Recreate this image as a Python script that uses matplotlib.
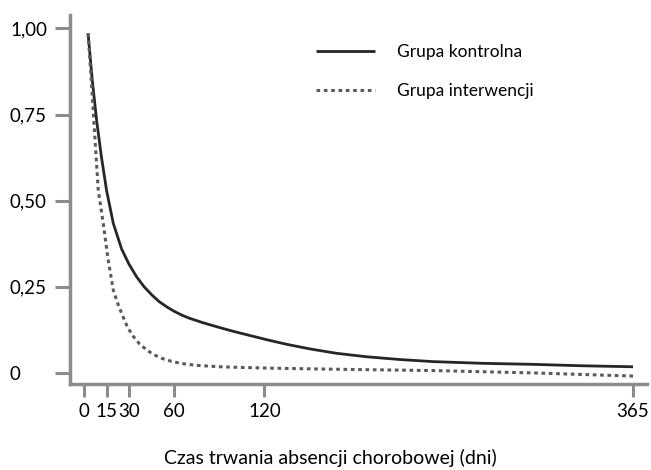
import matplotlib
matplotlib.use("Agg")
import matplotlib.pyplot as plt

plt.rcParams["font.family"] = ["Lato", "DejaVu Sans"]

# Survival curves read at selected days
days_control = [2.7, 5.5, 8.4, 11.5, 15, 19.5, 25, 30, 35, 40, 45, 50, 55, 60,
                65, 70, 79, 90, 100, 111, 122, 135, 150, 168, 188, 210, 232,
                265, 299, 330, 365]
control = [0.986, 0.85, 0.733, 0.63, 0.53, 0.434, 0.36, 0.315, 0.279, 0.250,
           0.227, 0.207, 0.192, 0.179, 0.168, 0.159, 0.146, 0.132, 0.120,
           0.108, 0.096, 0.083, 0.070, 0.057, 0.047, 0.039, 0.033, 0.028,
           0.025, 0.021, 0.018]

days_interv = [2.7, 5, 7, 9.5, 12.8, 16, 19.5, 23, 26, 29, 33, 37, 41.7, 46,
               52, 58, 64, 75, 90, 105, 124, 150, 180, 232, 300, 365]
interv = [0.986, 0.84, 0.70, 0.53, 0.434, 0.33, 0.24, 0.195, 0.163, 0.132,
          0.105, 0.084, 0.067, 0.054, 0.042, 0.034, 0.028, 0.022, 0.018,
          0.016, 0.014, 0.012, 0.010, 0.007, 0.0, -0.009]

xticks = [0, 15, 30, 60, 120, 365]
yticks = [0, 0.25, 0.5, 0.75, 1.0]
ytick_labels = ["0", "0,25", "0,50", "0,75", "1,00"]

axis_grey = "#8c8c8c"

fig = plt.figure(figsize=(6.51, 4.70), dpi=100)
ax = fig.add_axes([70 / 651, 86 / 470, 577 / 651, 369 / 470])

ax.plot(days_control, control, color="#262626", lw=2.0,
        label="Grupa kontrolna", solid_capstyle="butt")
ax.plot(days_interv, interv, color="#5a5a5a", lw=2.2,
        linestyle=(0, (1.2, 1.2)), label="Grupa interwencji")

ax.set_xlim(-9.3, 374.3)
ax.set_ylim(-0.032, 1.039)

ax.spines["top"].set_visible(False)
ax.spines["right"].set_visible(False)
for side in ("left", "bottom"):
    ax.spines[side].set_color(axis_grey)
    ax.spines[side].set_linewidth(2.5)

ax.set_xticks(xticks)
ax.set_xticklabels([str(t) for t in xticks])
ax.set_yticks(yticks)
ax.set_yticklabels(ytick_labels, ha="left")

ax.tick_params(axis="x", length=9.5, width=2.2, color=axis_grey,
               labelsize=13.5, pad=4)
ax.tick_params(axis="y", length=10.8, width=2.2, color=axis_grey,
               labelsize=13.5, pad=32.4)

ax.legend(loc="upper left", bbox_to_anchor=(300 / 651, 1 - 28 / 470),
          bbox_transform=fig.transFigure, frameon=False, fontsize=12.5,
          handlelength=3.4, handletextpad=1.3, labelspacing=1.35)

fig.text(330 / 651, 1 - 458 / 470, "Czas trwania absencji chorobowej (dni)",
         ha="center", va="center", fontsize=14)

fig.savefig("out.png", dpi=100)
